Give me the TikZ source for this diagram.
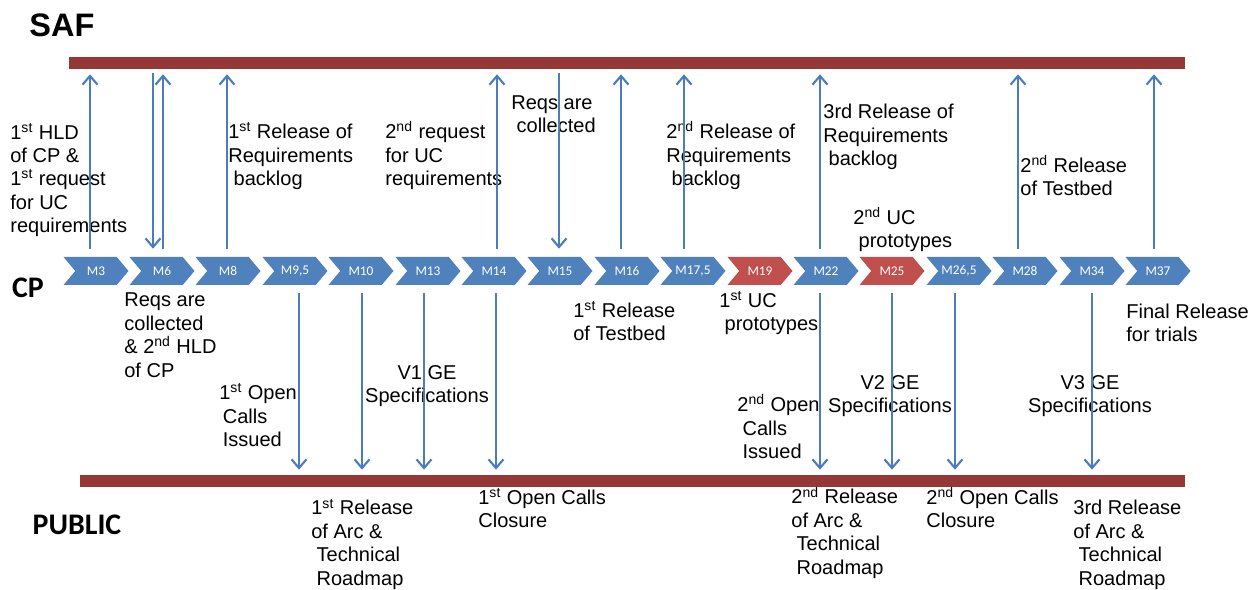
\documentclass[tikz,border=0pt]{standalone}
\usepackage{fontspec}
\setmainfont{Liberation Sans}
\newfontfamily\calibfont{Carlito}
\usepackage{tikz}
\usetikzlibrary{positioning}
\usetikzlibrary{shapes.symbols}
\usetikzlibrary{arrows.meta}
\definecolor{barred}{RGB}{149,55,53}
\definecolor{chblue}{RGB}{79,129,189}
\definecolor{chred}{RGB}{192,80,77}
\definecolor{arrblue}{RGB}{74,126,187}

\begin{document}
\begin{tikzpicture}[x=0.02cm,y=-0.02cm,
		chev/.style={signal,signal to=east,signal from=west,signal pointer angle=100,
			fill=chblue,text=white,minimum width=1.3cm,minimum height=0.56cm,inner sep=0pt,
			font=\calibfont\fontsize{7.6}{8}\selectfont},
		bar/.style={fill=barred,minimum height=0.24cm,inner sep=0pt},
		lbl/.style={align=left,anchor=base west,inner sep=0pt,font=\fontsize{11.4}{13.3}\selectfont},
		clbl/.style={lbl,align=center,anchor=base},
		side/.style={inner sep=0pt,font=\calibfont\bfseries\fontsize{17}{20}\selectfont},
		tobar/.style={draw=arrblue,line width=1.2pt,-{Straight Barb[length=5pt,width=8.5pt]},shorten <=4.5pt,shorten >=2.8pt},
		tochev/.style={draw=arrblue,line width=1.2pt,-{Straight Barb[length=5pt,width=8.5pt]},shorten <=2.2pt,shorten >=4.5pt}]
				\useasboundingbox (0,0) rectangle (1253,590);
				
				%Nodes
				\node[side,font=\bfseries\fontsize{18.5}{22}\selectfont] (saflbl) at (62,25) {SAF};
				\node[side] 		 (cplbl) at (28,288) {CP};
				\node[side] 		 (publbl) at (77,525) {PUBLIC};
				\node[bar,minimum width=22.32cm] (saf) at (627,63) {};
				\node[bar,minimum width=22.1cm] (pub) at (632.5,481) {};
				
				\node[chev] 		 (m3) 	at 	(96,271) {M3};
				\node[chev] 		 (m6) 	at 	(162,271) {M6};
				\node[chev] 		 (m8) 	at 	(228,271) {M8};
				\node[chev] 		 (m95) 	at 	(295,271) {M9,5};
				\node[chev] 		 (m10) 	at 	(361,271) {M10};
				\node[chev] 		 (m13) 	at 	(428,271) {M13};
				\node[chev] 		 (m14) 	at 	(494,271) {M14};
				\node[chev] 		 (m15) 	at 	(560,271) {M15};
				\node[chev] 		 (m16) 	at 	(627,271) {M16};
				\node[chev] 		 (m175) at 	(693,271) {M17,5};
				\node[chev,fill=chred] (m19) at (760,271) {M19};
				\node[chev] 		 (m22) 	at 	(826,271) {M22};
				\node[chev,fill=chred] (m25) at (892,271) {M25};
				\node[chev] 		 (m265) at 	(959,271) {M26,5};
				\node[chev] 		 (m28) 	at 	(1025,271) {M28};
				\node[chev] 		 (m34) 	at 	(1092,271) {M34};
				\node[chev] 		 (m37) 	at 	(1158,271) {M37};
				
				%Labels above (placed at the base of the last line)
				\node[lbl] (t1) at (10,232.5) {1\textsuperscript{st} HLD\\of CP \&\\1\textsuperscript{st} request\\for UC\\requirements};
				\node[lbl] (t2) at (228,185.7) {1\textsuperscript{st} Release of\\Requirements\\\hspace*{3pt}backlog};
				\node[lbl] (t3) at (385,185.7) {2\textsuperscript{nd} request\\for UC\\requirements};
				\node[lbl] (t4) at (511,132.4) {Reqs are\\\hspace*{3pt}collected};
				\node[lbl] (t5) at (666,185.7) {2\textsuperscript{nd} Release of\\Requirements\\\hspace*{3pt}backlog};
				\node[lbl] (t6) at (823,165.7) {3rd Release of\\Requirements\\\hspace*{3pt}backlog};
				\node[lbl] (t7) at (1020,195.4) {2\textsuperscript{nd} Release\\of Testbed};
				\node[lbl] (t8) at (853,247.4) {2\textsuperscript{nd} UC\\\hspace*{3pt}prototypes};
				
				%Labels below
				\node[lbl] (t9) at (124,377.1) {Reqs are\\collected\\\& 2\textsuperscript{nd} HLD\\of CP};
				\node[lbl] (t10) at (219,446.7) {1\textsuperscript{st} Open\\\hspace*{2pt}Calls\\\hspace*{2pt}Issued};
				\node[clbl] (t11) at (427,402.4) {V1 GE\\Specifications};
				\node[lbl] (t12) at (573,340.4) {1\textsuperscript{st} Release\\of Testbed};
				\node[lbl] (t13) at (719,330.4) {1\textsuperscript{st} UC\\\hspace*{3pt}prototypes};
				\node[lbl] (t14) at (737,458.7) {2\textsuperscript{nd} Open\\\hspace*{3pt}Calls\\\hspace*{3pt}Issued};
				\node[clbl] (t15) at (890,412.4) {V2 GE\\Specifications};
				\node[clbl] (t16) at (1090,412.4) {V3 GE\\Specifications};
				\node[lbl] (t17) at (1126,341.4) {Final Release\\for trials};
				\node[lbl] (t18) at (311,585.1) {1\textsuperscript{st} Release\\of Arc \&\\\hspace*{3pt}Technical\\\hspace*{3pt}Roadmap};
				\node[lbl] (t19) at (478,527.4) {1\textsuperscript{st} Open Calls\\Closure};
				\node[lbl] (t20) at (791,574.1) {2\textsuperscript{nd} Release\\of Arc \&\\\hspace*{3pt}Technical\\\hspace*{3pt}Roadmap};
				\node[lbl] (t21) at (926,527.4) {2\textsuperscript{nd} Open Calls\\Closure};
				\node[lbl] (t22) at (1073,585.1) {3rd Release\\of Arc \&\\\hspace*{3pt}Technical\\\hspace*{3pt}Roadmap};
				
				%Lines up to SAF
				\draw[tobar] (m3.north -| 90,0) -- (saf.south -| 90,0);
				\draw[tobar] (m6.north -| 163,0) -- (saf.south -| 163,0);
				\draw[tobar] (m8.north -| 227,0) -- (saf.south -| 227,0);
				\draw[tobar] (m14.north -| 497,0) -- (saf.south -| 497,0);
				\draw[tobar] (m16.north -| 621,0) -- (saf.south -| 621,0);
				\draw[tobar] (m175.north -| 684,0) -- (saf.south -| 684,0);
				\draw[tobar] (m22.north -| 820,0) -- (saf.south -| 820,0);
				\draw[tobar] (m28.north -| 1018,0) -- (saf.south -| 1018,0);
				\draw[tobar] (m37.north -| 1154,0) -- (saf.south -| 1154,0);
				
				%Lines down from SAF
				\draw[tochev] (saf.south -| 153,0) -- (m6.north -| 153,0);
				\draw[tochev] (saf.south -| 559,0) -- (m15.north -| 559,0);
				
				%Lines down to PUBLIC
				\draw[tobar] (m95.south -| 299,0) -- (pub.north -| 299,0);
				\draw[tobar] (m10.south -| 362,0) -- (pub.north -| 362,0);
				\draw[tobar] (m13.south -| 424,0) -- (pub.north -| 424,0);
				\draw[tobar] (m14.south -| 496,0) -- (pub.north -| 496,0);
				\draw[tobar] (m22.south -| 820,0) -- (pub.north -| 820,0);
				\draw[tobar] (m25.south -| 892,0) -- (pub.north -| 892,0);
				\draw[tobar] (m265.south -| 955,0) -- (pub.north -| 955,0);
				\draw[tobar] (m34.south -| 1092,0) -- (pub.north -| 1092,0);

\end{tikzpicture}
\end{document}
